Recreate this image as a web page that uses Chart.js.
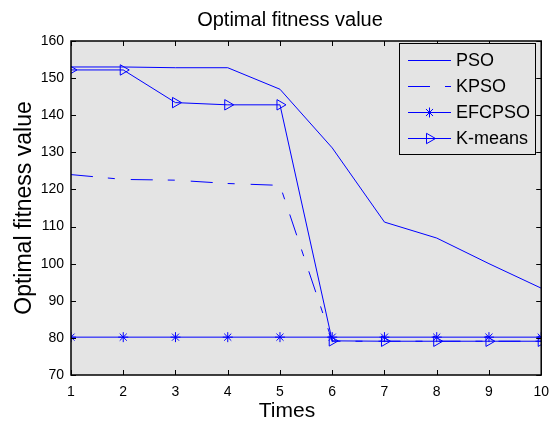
<!DOCTYPE html>
<html>
<head>
<meta charset="utf-8">
<script src="https://cdn.jsdelivr.net/npm/chart.js@4"></script>
<style>
  html, body { margin: 0; padding: 0; background: #fff; }
  #wrap { width: 558px; height: 423px; }
</style>
</head>
<body>
<div id="wrap"><canvas id="fitChart" width="558" height="423"></canvas></div>
<script>
// data
const times = [1, 2, 3, 4, 5, 6, 7, 8, 9, 10];
const psoValues = [153, 153, 152.8, 152.8, 147, 131.2, 111.2, 106.9, 100, 93.4];
const kpsoValues = [124, 122.7, 122.5, 121.6, 121.1, 79.1, 79.1, 79.1, 79.1, 79.1];
const efcpsoValues = [80.2, 80.2, 80.2, 80.2, 80.2, 80.2, 80.2, 80.2, 80.2, 80.2];
const kmeansValues = [152.2, 152.2, 143.4, 142.8, 142.8, 79.2, 79.1, 79.1, 79.1, 79.1];
const xTicks = [1, 2, 3, 4, 5, 6, 7, 8, 9, 10];
const yTicks = [70, 80, 90, 100, 110, 120, 130, 140, 150, 160];

const BLUE = "#0000ff";
const PLOT_BG = "#e4e4e4";
const FONT = "'Liberation Sans', Arial, sans-serif";

function toPoints(values) {
  return values.map((v, i) => ({ x: times[i], y: v }));
}

// frame, inward ticks (all four sides), plot background
const framePlugin = {
  id: "frame",
  beforeDatasetsDraw(chart) {
    const { ctx, chartArea: a } = chart;
    ctx.save();
    ctx.fillStyle = PLOT_BG;
    ctx.fillRect(a.left, a.top, a.right - a.left, a.bottom - a.top);
    ctx.restore();
  },
  afterDatasetsDraw(chart) {
    const { ctx, chartArea: a, scales } = chart;
    ctx.save();
    ctx.strokeStyle = "#000";
    ctx.lineWidth = 1;
    ctx.beginPath();
    xTicks.forEach(t => {
      const px = Math.round(scales.x.getPixelForValue(t)) + 0.5;
      ctx.moveTo(px, a.bottom); ctx.lineTo(px, a.bottom - 5);
      ctx.moveTo(px, a.top); ctx.lineTo(px, a.top + 5);
    });
    yTicks.forEach(t => {
      const py = Math.round(scales.y.getPixelForValue(t)) + 0.5;
      ctx.moveTo(a.left, py); ctx.lineTo(a.left + 5, py);
      ctx.moveTo(a.right, py); ctx.lineTo(a.right - 5, py);
    });
    ctx.stroke();
    ctx.lineWidth = 1.5;
    ctx.strokeRect(a.left, a.top, a.right - a.left, a.bottom - a.top);
    ctx.restore();
  },
  afterDraw(chart) {
    const { ctx, data } = chart;
    ctx.save();
    ctx.fillStyle = "#000";
    ctx.textAlign = "center";
    ctx.textBaseline = "middle";

    // title
    ctx.font = "20px " + FONT;
    ctx.fillText("Optimal fitness value", 290, 20);

    // x title
    ctx.font = "21px " + FONT;
    ctx.fillText("Times", 287, 411);

    // y title
    ctx.save();
    ctx.translate(25, 208);
    ctx.rotate(-Math.PI / 2);
    ctx.font = "23px " + FONT;
    ctx.fillText("Optimal fitness value", 0, 0);
    ctx.restore();

    // legend box
    const lx = 399.5, ly = 43.5, lw = 136, lh = 111;
    ctx.fillStyle = PLOT_BG;
    ctx.fillRect(lx, ly, lw, lh);
    ctx.strokeStyle = "#000";
    ctx.lineWidth = 1;
    ctx.strokeRect(lx, ly, lw, lh);

    const rows = [60, 86, 112, 138];
    data.datasets.forEach((ds, i) => {
      const y = rows[i] + 0.5;
      ctx.save();
      ctx.strokeStyle = ds.borderColor;
      ctx.lineWidth = ds.borderWidth;
      ctx.setLineDash(ds.borderDash || []);
      ctx.beginPath();
      ctx.moveTo(408, y);
      ctx.lineTo(451, y);
      ctx.stroke();
      ctx.setLineDash([]);
      if (ds.pointRadius > 0) {
        ctx.strokeStyle = ds.pointBorderColor;
        ctx.fillStyle = "rgba(0,0,0,0)";
        Chart.helpers.drawPoint(ctx, {
          pointStyle: ds.pointStyle,
          radius: ds.pointRadius,
          rotation: ds.pointRotation || 0,
          borderWidth: 1
        }, 429.5, y);
      }
      ctx.restore();
      ctx.fillStyle = "#000";
      ctx.textAlign = "left";
      ctx.font = "18px " + FONT;
      ctx.fillText(ds.label, 456, rows[i] + 1);
    });
    ctx.restore();
  }
};

new Chart(document.getElementById("fitChart"), {
  type: "line",
  data: {
    datasets: [
      {
        label: "PSO",
        data: toPoints(psoValues),
        borderColor: BLUE,
        borderWidth: 1,
        pointRadius: 0,
        tension: 0
      },
      {
        label: "KPSO",
        data: toPoints(kpsoValues),
        borderColor: BLUE,
        borderWidth: 1,
        borderDash: [22, 15, 7, 16],
        pointRadius: 0,
        tension: 0
      },
      {
        label: "EFCPSO",
        data: toPoints(efcpsoValues),
        borderColor: BLUE,
        borderWidth: 1,
        pointStyle: "star",
        pointRadius: 5,
        pointBorderColor: BLUE,
        pointBackgroundColor: "rgba(0,0,0,0)",
        pointBorderWidth: 1,
        tension: 0
      },
      {
        label: "K-means",
        data: toPoints(kmeansValues),
        borderColor: BLUE,
        borderWidth: 1,
        pointStyle: "triangle",
        pointRotation: 90,
        pointRadius: 6,
        pointBorderColor: BLUE,
        pointBackgroundColor: "rgba(0,0,0,0)",
        pointBorderWidth: 1,
        tension: 0
      }
    ]
  },
  options: {
    responsive: false,
    devicePixelRatio: 1,
    animation: false,
    layout: {
      padding: { top: 41, right: 13, left: 0, bottom: 0 }
    },
    plugins: {
      legend: { display: false },
      tooltip: { enabled: false }
    },
    scales: {
      x: {
        type: "linear",
        min: 1,
        max: 10,
        afterFit: s => { s.height = 48; },
        afterBuildTicks: s => { s.ticks = xTicks.map(v => ({ value: v })); },
        grid: { display: false, drawTicks: false },
        border: { display: false },
        ticks: {
          color: "#000",
          font: { size: 14, family: FONT },
          padding: 9,
          maxRotation: 0
        }
      },
      y: {
        min: 70,
        max: 160,
        afterFit: s => { s.width = 71; },
        afterBuildTicks: s => { s.ticks = yTicks.map(v => ({ value: v })); },
        grid: { display: false, drawTicks: false },
        border: { display: false },
        ticks: {
          color: "#000",
          font: { size: 14, family: FONT },
          padding: 7
        }
      }
    }
  },
  plugins: [framePlugin]
});
</script>
</body>
</html>
